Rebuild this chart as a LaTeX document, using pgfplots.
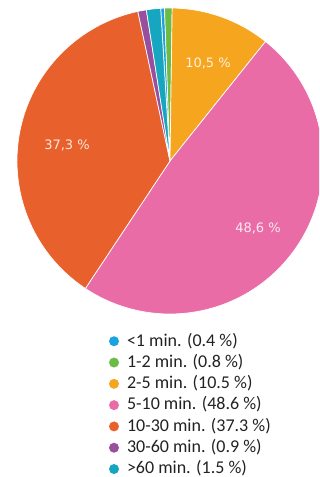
\documentclass[border=0pt]{standalone}
\usepackage{pgfplots}
\pgfplotsset{compat=1.18}
\usepackage{pgfplotstable}
\usepackage{fontspec}
\setmainfont{Carlito}
\newfontfamily\dejavu{DejaVu Sans}
\definecolor{cA}{HTML}{1AA3E0}
\definecolor{cB}{HTML}{6CBB44}
\definecolor{cC}{HTML}{F5A51E}
\definecolor{cD}{HTML}{E96CA7}
\definecolor{cE}{HTML}{E8612C}
\definecolor{cF}{HTML}{9A4E9E}
\definecolor{cG}{HTML}{17A6BF}
\definecolor{legtext}{HTML}{222222}
\begin{document}
\begin{tikzpicture}
\path[use as bounding box, clip] (0,0) rectangle (319pt,477pt);
\begin{axis}[
  at={(0pt,0pt)}, anchor=south west,
  x=1pt, y=1pt,
  xmin=-170, xmax=149, ymin=-316, ymax=161,
  hide axis,
  scale only axis,
  legend cell align=left,
  legend image code/.code={\fill[#1, draw=none] (0pt,0.3pt) circle (5pt);},
  legend style={
    draw=none, fill=none,
    at={(0.3417,0.3018)}, anchor=north west,
    inner sep=0pt, outer sep=0pt,
    row sep=4.3pt,
    /tikz/column sep=8pt,
    font=\fontsize{18}{21.3}\selectfont\color{legtext},
    nodes={inner sep=0pt, outer sep=0pt, text height=13pt, text depth=4pt},
  },
]
% slice percentages: 0.4, 0.8, 10.5, 48.6, 37.3, 0.9, 1.5 (clockwise from 93.5 deg)
\addplot[fill=cA, draw=white, line width=0.7pt, data cs=polar] coordinates {(0,0) (93.5,153)} arc[start angle=93.5, delta angle=-3.6*0.4, radius=153pt] -- cycle;
\addlegendentry{<1 min. (0.4 \%)}
\addplot[fill=cB, draw=white, line width=0.7pt, data cs=polar] coordinates {(0,0) (92.06,153)} arc[start angle=92.06, delta angle=-3.6*0.8, radius=153pt] -- cycle;
\addlegendentry{1-2 min. (0.8 \%)}
\addplot[fill=cC, draw=white, line width=0.7pt, data cs=polar] coordinates {(0,0) (89.18,153)} arc[start angle=89.18, delta angle=-3.6*10.5, radius=153pt] -- cycle;
\addlegendentry{2-5 min. (10.5 \%)}
\addplot[fill=cD, draw=white, line width=0.7pt, data cs=polar] coordinates {(0,0) (51.38,153)} arc[start angle=51.38, delta angle=-3.6*48.6, radius=153pt] -- cycle;
\addlegendentry{5-10 min. (48.6 \%)}
\addplot[fill=cE, draw=white, line width=0.7pt, data cs=polar] coordinates {(0,0) (-123.58,153)} arc[start angle=-123.58, delta angle=-3.6*37.3, radius=153pt] -- cycle;
\addlegendentry{10-30 min. (37.3 \%)}
\addplot[fill=cF, draw=white, line width=0.7pt, data cs=polar] coordinates {(0,0) (-257.86,153)} arc[start angle=-257.86, delta angle=-3.6*0.9, radius=153pt] -- cycle;
\addlegendentry{30-60 min. (0.9 \%)}
\addplot[fill=cG, draw=white, line width=0.7pt, data cs=polar] coordinates {(0,0) (-261.10,153)} arc[start angle=-261.10, delta angle=-3.6*1.5, radius=153pt] -- cycle;
\addlegendentry{>60 min. (1.5 \%)}
\node[font=\dejavu\fontsize{13}{15}\selectfont, text=white, text opacity=0.85] at (axis cs:38,98) {10,5 \%};
\node[font=\dejavu\fontsize{13}{15}\selectfont, text=white, text opacity=0.85] at (axis cs:-103,16) {37,3 \%};
\node[font=\dejavu\fontsize{13}{15}\selectfont, text=white, text opacity=0.85] at (axis cs:88,-67) {48,6 \%};
\end{axis}
\end{tikzpicture}
\end{document}
